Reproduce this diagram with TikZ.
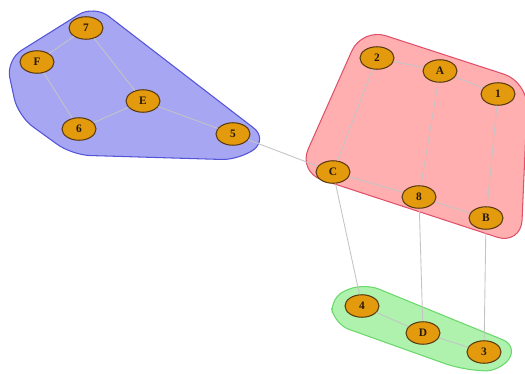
\documentclass[tikz,border=0pt]{standalone}
\usepackage{fontspec}
\setmainfont{Liberation Serif}
\usetikzlibrary{shapes.geometric}
\definecolor{nodefill}{HTML}{E39A0C}
\definecolor{nodeline}{HTML}{5A3A10}
\definecolor{edgegray}{HTML}{C4C4C4}
\definecolor{bluefill}{HTML}{A6A6F2}
\definecolor{blueline}{HTML}{5454D8}
\definecolor{redfill}{HTML}{FFAFAF}
\definecolor{redline}{HTML}{E0506A}
\definecolor{greenfill}{HTML}{AEF2AE}
\definecolor{greenline}{HTML}{6AD86A}
\tikzset{
  vtx/.style={ellipse, draw=nodeline, line width=0.6pt, fill=nodefill,
    minimum width=0.68cm, minimum height=0.45cm, inner sep=0pt,
    font=\fontsize{6.5}{7}\selectfont\bfseries, text=black!80!brown},
  edge/.style={draw=edgegray, line width=0.5pt},
  hull/.style={line width=0.6pt}
}
\begin{document}
\begin{tikzpicture}[x=0.02cm, y=-0.02cm]
\useasboundingbox (0,0) rectangle (525,373);
% group outlines
\filldraw[hull, fill=bluefill, draw=blueline, rounded corners=0.36cm]
  (94,5) -- (268,139) -- (240,160) -- (72,155) -- (18,116) -- (6,60) -- cycle;
\filldraw[hull, fill=redfill, draw=redline, rounded corners=0.5cm]
  (362,28) -- (528,82) -- (521,245) -- (298,172) -- cycle;
\filldraw[hull, fill=greenfill, draw=greenline, rounded corners=0.32cm]
  (330,297) -- (364,283) -- (518,346) -- (500,372) -- (460,369) -- (334,324) -- cycle;
% vertices
\node[vtx] (n7) at (86,28) {7};
\node[vtx] (nF) at (37,62) {F};
\node[vtx] (nE) at (143,101) {E};
\node[vtx] (n6) at (79,129) {6};
\node[vtx] (n5) at (233,134) {5};
\node[vtx] (n2) at (377,58) {2};
\node[vtx] (nA) at (440,71) {A};
\node[vtx] (n1) at (498,94) {1};
\node[vtx] (nC) at (333,172) {C};
\node[vtx] (n8) at (419,197) {8};
\node[vtx] (nB) at (486,218) {B};
\node[vtx] (n4) at (362,306) {4};
\node[vtx] (nD) at (423,333) {D};
\node[vtx] (n3) at (484,352) {3};
% edges
\foreach \a/\b in {n7/nF, n7/nE, nF/n6, n6/nE, nE/n5, n5/nC, n2/nA, nA/n1,
  n2/nC, nA/n8, n1/nB, nC/n8, n8/nB, nC/n4, n8/nD, nB/n3, n4/nD, nD/n3}
  \path[edge] (\a) -- (\b);
\end{tikzpicture}
\end{document}
